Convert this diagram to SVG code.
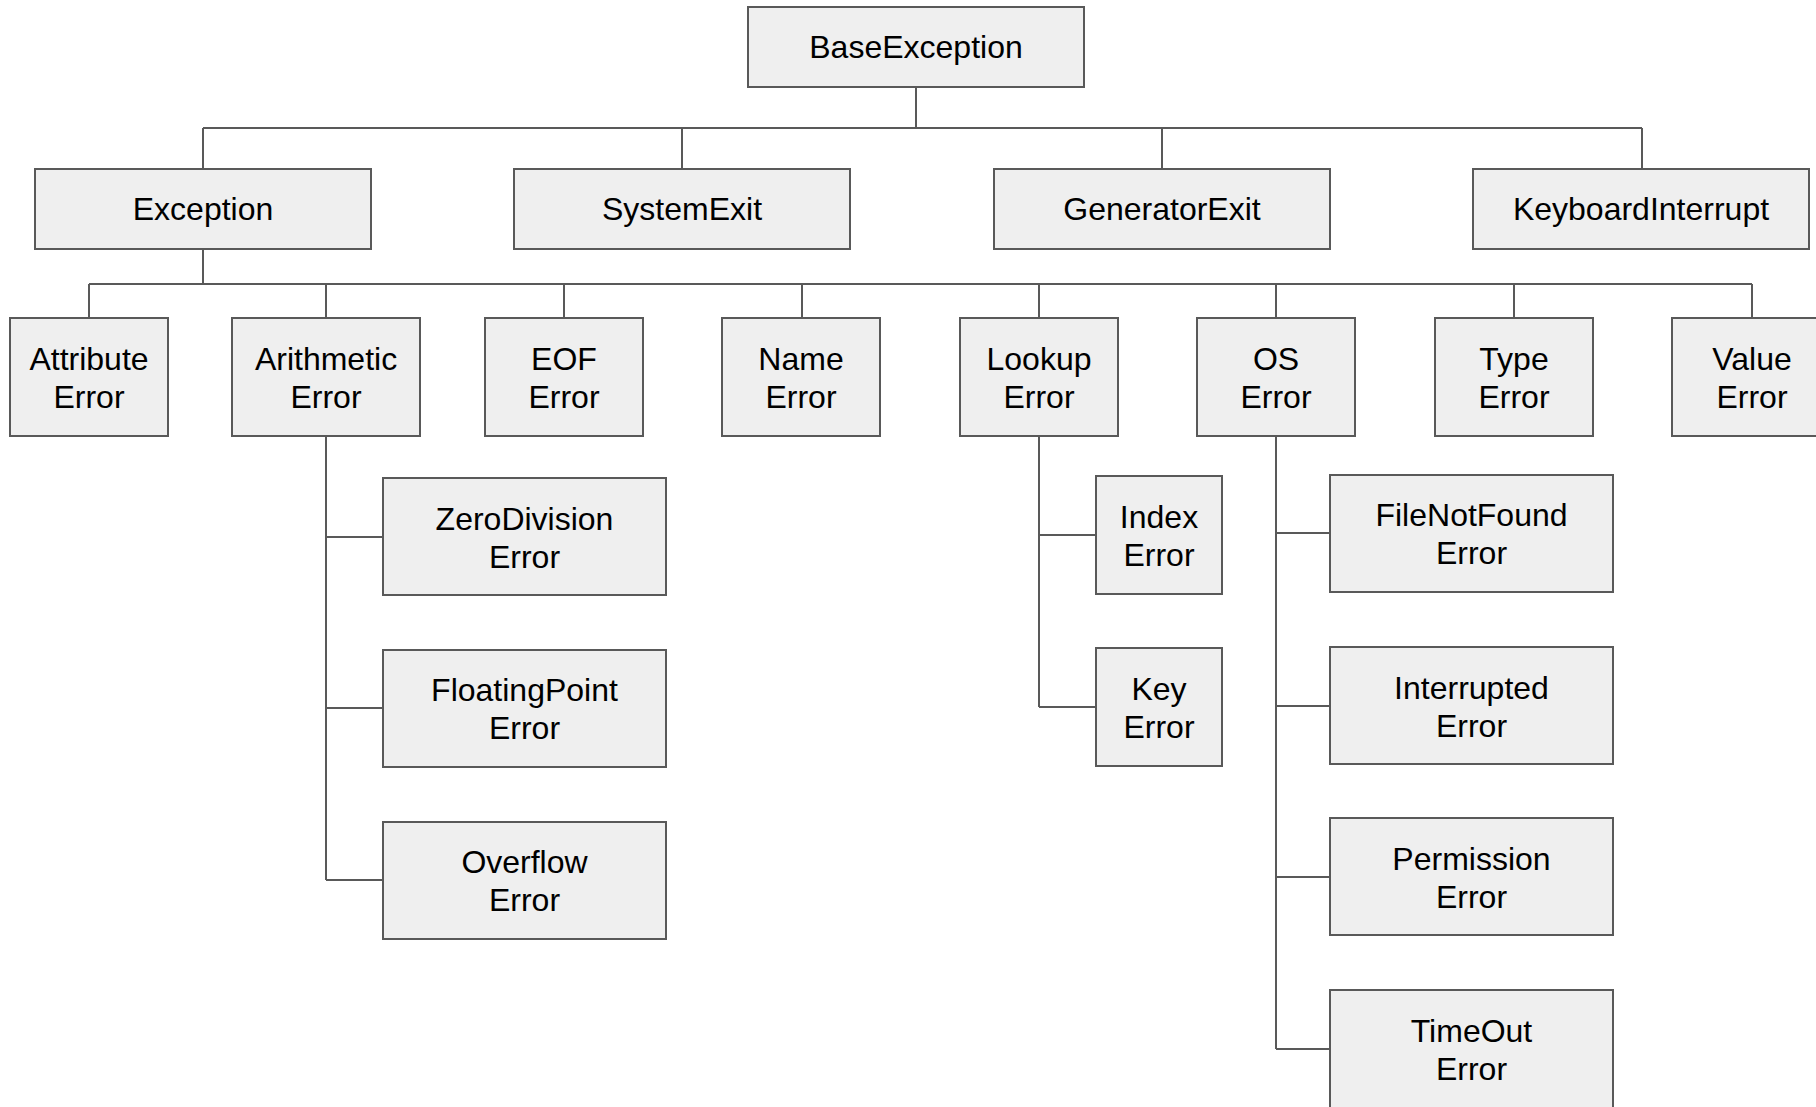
<svg xmlns="http://www.w3.org/2000/svg" width="1816" height="1107" viewBox="0 0 1816 1107">
<style>
.b{fill:#efefef;stroke:#595959;stroke-width:2}
.c{fill:none;stroke:#595959;stroke-width:2}
text{font-family:"Liberation Sans",Arial,sans-serif;font-size:32px;fill:#000;text-anchor:middle}
</style>
<rect width="1816" height="1107" fill="#fff"/>
<g id="connectors" class="c">
<path d="M916 87V128M203 128H1642M203 128V169M682 128V169M1162 128V169M1642 128V169"/>
<path d="M203 249V284M89 284H1752M89 284V318M326 284V318M564 284V318M802 284V318M1039 284V318M1276 284V318M1514 284V318M1752 284V318"/>
<path d="M326 436V880M326 537H383M326 708H383M326 880H383"/>
<path d="M1039 436V707M1039 535H1096M1039 707H1096"/>
<path d="M1276 436V1049M1276 533H1330M1276 706H1330M1276 877H1330M1276 1049H1330"/>
</g>
<g id="BaseException"><rect class="b" x="748" y="7" width="336" height="80"/><text x="916" y="58">BaseException</text></g>
<g id="Exception"><rect class="b" x="35" y="169" width="336" height="80"/><text x="203" y="220">Exception</text></g>
<g id="SystemExit"><rect class="b" x="514" y="169" width="336" height="80"/><text x="682" y="220">SystemExit</text></g>
<g id="GeneratorExit"><rect class="b" x="994" y="169" width="336" height="80"/><text x="1162" y="220">GeneratorExit</text></g>
<g id="KeyboardInterrupt"><rect class="b" x="1473" y="169" width="336" height="80"/><text x="1641" y="220">KeyboardInterrupt</text></g>
<g id="AttributeError"><rect class="b" x="10" y="318" width="158" height="118"/><text x="89" y="370">Attribute</text><text x="89" y="408">Error</text></g>
<g id="ArithmeticError"><rect class="b" x="232" y="318" width="188" height="118"/><text x="326" y="370">Arithmetic</text><text x="326" y="408">Error</text></g>
<g id="EOFError"><rect class="b" x="485" y="318" width="158" height="118"/><text x="564" y="370">EOF</text><text x="564" y="408">Error</text></g>
<g id="NameError"><rect class="b" x="722" y="318" width="158" height="118"/><text x="801" y="370">Name</text><text x="801" y="408">Error</text></g>
<g id="LookupError"><rect class="b" x="960" y="318" width="158" height="118"/><text x="1039" y="370">Lookup</text><text x="1039" y="408">Error</text></g>
<g id="OSError"><rect class="b" x="1197" y="318" width="158" height="118"/><text x="1276" y="370">OS</text><text x="1276" y="408">Error</text></g>
<g id="TypeError"><rect class="b" x="1435" y="318" width="158" height="118"/><text x="1514" y="370">Type</text><text x="1514" y="408">Error</text></g>
<g id="ValueError"><rect class="b" x="1672" y="318" width="158" height="118"/><text x="1752" y="370">Value</text><text x="1752" y="408">Error</text></g>
<g id="ZeroDivisionError"><rect class="b" x="383" y="478" width="283" height="117"/><text x="524.5" y="530">ZeroDivision</text><text x="524.5" y="568">Error</text></g>
<g id="FloatingPointError"><rect class="b" x="383" y="650" width="283" height="117"/><text x="524.5" y="701">FloatingPoint</text><text x="524.5" y="739">Error</text></g>
<g id="OverflowError"><rect class="b" x="383" y="822" width="283" height="117"/><text x="524.5" y="873">Overflow</text><text x="524.5" y="911">Error</text></g>
<g id="IndexError"><rect class="b" x="1096" y="476" width="126" height="118"/><text x="1159" y="528">Index</text><text x="1159" y="566">Error</text></g>
<g id="KeyError"><rect class="b" x="1096" y="648" width="126" height="118"/><text x="1159" y="700">Key</text><text x="1159" y="738">Error</text></g>
<g id="FileNotFoundError"><rect class="b" x="1330" y="475" width="283" height="117"/><text x="1471.5" y="526">FileNotFound</text><text x="1471.5" y="564">Error</text></g>
<g id="InterruptedError"><rect class="b" x="1330" y="647" width="283" height="117"/><text x="1471.5" y="699">Interrupted</text><text x="1471.5" y="737">Error</text></g>
<g id="PermissionError"><rect class="b" x="1330" y="818" width="283" height="117"/><text x="1471.5" y="870">Permission</text><text x="1471.5" y="908">Error</text></g>
<g id="TimeOutError"><rect class="b" x="1330" y="990" width="283" height="130"/><text x="1471.5" y="1042">TimeOut</text><text x="1471.5" y="1080">Error</text></g>
</svg>
